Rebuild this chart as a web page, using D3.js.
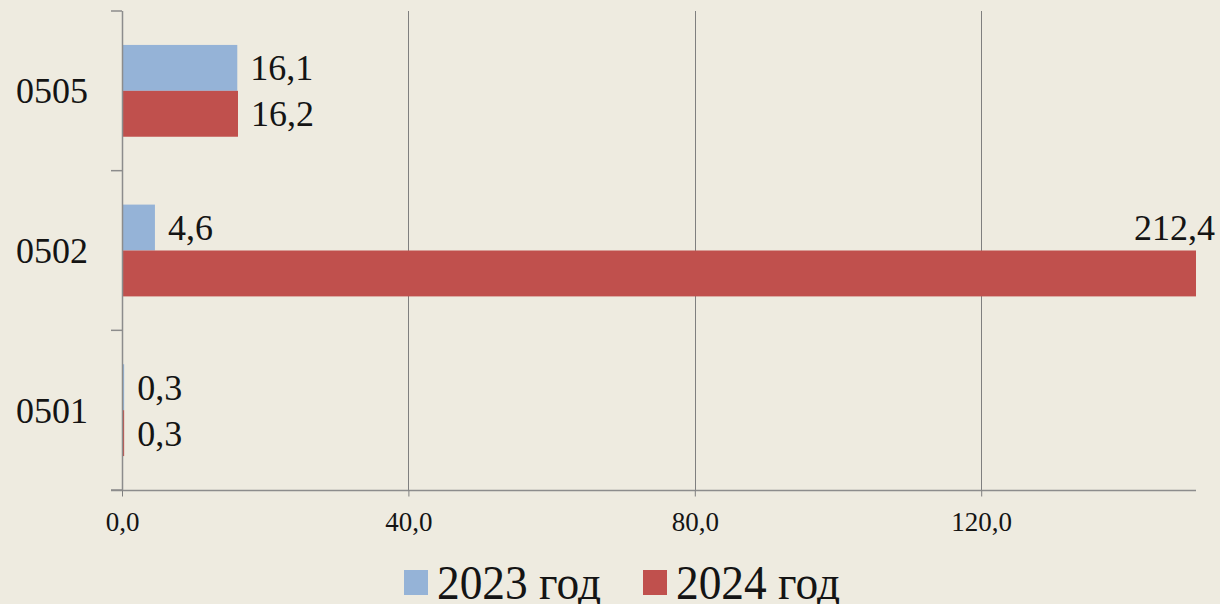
<!DOCTYPE html>
<html><head><meta charset="utf-8">
<script src="https://cdn.jsdelivr.net/npm/d3@7"></script>
<style>
html,body{margin:0;padding:0;background:#EEEBE0;}
svg{display:block;}
text{font-family:"Liberation Serif","Times New Roman",serif;fill:#141414;}
</style></head>
<body>
<svg id="c" width="1220" height="604"></svg>
<script>
const categories = ["0505", "0502", "0501"];
const seriesNames = ["2023 год", "2024 год"];
const values2023 = [16.1, 4.6, 0.3];
const values2024 = [16.2, 212.4, 0.3];
const valueLabels2023 = ["16,1", "4,6", "0,3"];
const valueLabels2024 = ["16,2", "212,4", "0,3"];
const xTicks = [0, 40, 80, 120];
const xTickLabels = ["0,0", "40,0", "80,0", "120,0"];
const xMax = 150;
const colors = ["#95B3D7", "#C0504D"];

(function () {
const svg = d3.select("#c");
const pL = 122, pR = 1196, pT = 11, pB = 490;

const x = d3.scaleLinear().domain([0, xMax]).range([pL, pR]).clamp(true);
const y = d3.scaleBand().domain(categories).range([pT, pB]).paddingInner(0.425).paddingOuter(0.2125);
const ySub = d3.scaleBand().domain([0, 1]).range([0, y.bandwidth()]);

// gridlines
svg.append("g").selectAll("line").data(xTicks.filter(d => d > 0)).join("line")
  .attr("x1", d => Math.round(x(d)) + 0.5).attr("x2", d => Math.round(x(d)) + 0.5)
  .attr("y1", pT).attr("y2", pB)
  .attr("stroke", "#7f7f7f").attr("stroke-width", 1);

// x axis
const xAxis = d3.axisBottom(x).tickValues(xTicks).tickFormat((d, i) => xTickLabels[i]).tickSize(6).tickPadding(15);
const gx = svg.append("g").attr("transform", `translate(0,${pB + 0.5})`).call(xAxis);
gx.select(".domain").attr("stroke", "#8c8c8c").attr("stroke-width", 1.5).attr("d", `M${pL - 11},0H${pR}`);
gx.selectAll(".tick line").attr("stroke", "#7f7f7f");
gx.selectAll(".tick text").attr("font-size", 27).attr("font-family", "Liberation Serif").attr("fill", "#141414");

// bars
const data = categories.map((c, i) => ({ c, vals: [values2023[i], values2024[i]], labs: [valueLabels2023[i], valueLabels2024[i]] }));
const groups = svg.append("g").selectAll("g").data(data).join("g")
  .attr("transform", d => `translate(0,${y(d.c)})`);
groups.selectAll("rect").data(d => d.vals.map((v, k) => ({ v, k }))).join("rect")
  .attr("x", x(0)).attr("y", d => ySub(d.k))
  .attr("width", d => Math.max(1.5, x(d.v) - x(0))).attr("height", ySub.bandwidth())
  .attr("fill", d => colors[d.k]);

// value labels
groups.selectAll("text.val").data(d => d.vals.map((v, k) => ({ v, k, lab: d.labs[k] }))).join("text")
  .attr("class", "val")
  .attr("font-size", 36)
  .attr("x", d => d.v > xMax ? x(xMax) + 19 : x(d.v) + 13)
  .attr("y", d => d.v > xMax ? ySub(d.k) - ySub.bandwidth() / 2 : ySub(d.k) + ySub.bandwidth() / 2)
  .attr("dy", "0.35em")
  .attr("text-anchor", d => d.v > xMax ? "end" : "start")
  .text(d => d.lab);

// y axis
svg.append("line").attr("x1", pL + 0.5).attr("x2", pL + 0.5).attr("y1", pT).attr("y2", pB)
  .attr("stroke", "#8c8c8c").attr("stroke-width", 1.5);
const bounds = d3.range(categories.length + 1).map(i => pT + i * y.step());
svg.append("g").selectAll("line").data(bounds).join("line")
  .attr("x1", pL - 11).attr("x2", pL).attr("y1", d => d).attr("y2", d => d)
  .attr("stroke", "#8c8c8c").attr("stroke-width", 1.5);
svg.append("g").selectAll("text").data(categories).join("text")
  .attr("x", 88).attr("y", d => y(d) + y.bandwidth() / 2).attr("dy", "0.35em")
  .attr("text-anchor", "end").attr("font-size", 36).text(d => d);

// legend
const legX = [404, 643];
const lg = svg.append("g").selectAll("g").data(seriesNames).join("g")
  .attr("transform", (d, i) => `translate(${legX[i]},570)`);
lg.append("rect").attr("width", 24).attr("height", 25).attr("fill", (d, i) => colors[i]);
lg.append("text").attr("x", 33).attr("y", 29).attr("font-size", 48)
  .attr("textLength", 164).attr("lengthAdjust", "spacingAndGlyphs").text(d => d);
})();
</script>
</body></html>
